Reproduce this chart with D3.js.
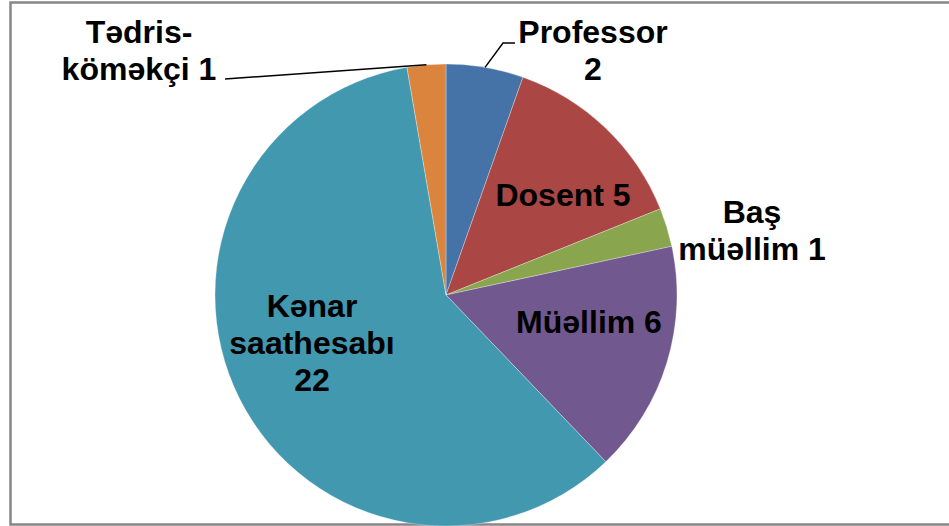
<!DOCTYPE html>
<html>
<head>
<meta charset="utf-8">
<script src="https://cdn.jsdelivr.net/npm/d3@7"></script>
<style>
  body { margin: 0; background: #fff; }
  svg { display: block; }
</style>
</head>
<body>
<div id="chart"></div>
<script>
// categories and values, clockwise from 12 o'clock
var categories = ["Professor", "Dosent", "Baş müəllim", "Müəllim", "Kənar saathesabı", "Tədris-köməkçi"];
var values = [2, 5, 1, 6, 22, 1];
// label lines as they appear in the chart
var labelLines = [
    ["Professor", "2"],
    ["Dosent 5"],
    ["Baş", "müəllim 1"],
    ["Müəllim 6"],
    ["Kənar", "saathesabı", "22"],
    ["Tədris-", "köməkçi 1"]
];
var colors = ["#4572A7", "#AA4643", "#89A54E", "#71588F", "#4198AF", "#DB843D"];

var width = 949, height = 526;
var cx = 446, cy = 295, radius = 231;

// label layout (centre x, first baseline y), plus leader elbow points
var labelPos = {
    "Professor": {x: 593, y: 43, leader: [[503, 43], [515, 43]]},
    "Dosent": {x: 563, y: 206},
    "Baş müəllim": {x: 752, y: 223},
    "Müəllim": {x: 589, y: 333},
    "Kənar saathesabı": {x: 312, y: 317},
    "Tədris-köməkçi": {x: 139, y: 43, leader: [[225, 79]]}
};
var lineHeight = 37;

var data = categories.map(function (c, i) {
    return {name: c, value: values[i], lines: labelLines[i], color: colors[i]};
});

var svg = d3.select("#chart").append("svg")
    .attr("width", width)
    .attr("height", height);

// chart frame (right edge runs off the picture)
svg.append("rect")
    .attr("x", 10.5)
    .attr("y", 2.5)
    .attr("width", width + 20)
    .attr("height", 522)
    .attr("fill", "none")
    .attr("stroke", "#868686")
    .attr("stroke-width", 2.5);

var pie = d3.pie()
    .sort(null)
    .value(function (d) { return d.value; });

var arc = d3.arc()
    .innerRadius(0)
    .outerRadius(radius);

var arcs = pie(data);

var g = svg.append("g")
    .attr("transform", "translate(" + cx + "," + cy + ")");

g.selectAll("path")
    .data(arcs)
    .enter()
    .append("path")
    .attr("d", arc)
    .attr("fill", function (d) { return d.data.color; })
    .attr("stroke", "rgba(255,255,255,0.5)")
    .attr("stroke-width", 0.6);

// leader lines
arcs.forEach(function (d) {
    var p = labelPos[d.data.name];
    if (!p.leader) return;
    var mid = (d.startAngle + d.endAngle) / 2;
    var start = [cx + radius * Math.sin(mid), cy - radius * Math.cos(mid)];
    var pts = [start].concat(p.leader);
    svg.append("path")
        .attr("d", d3.line()(pts))
        .attr("fill", "none")
        .attr("stroke", "#000")
        .attr("stroke-width", 1.5);
});

// labels
arcs.forEach(function (d) {
    var p = labelPos[d.data.name];
    var t = svg.append("text")
        .attr("text-anchor", "middle")
        .attr("font-family", "'Liberation Sans', Arial, sans-serif")
        .attr("font-weight", "bold")
        .attr("font-size", "32px")
        .attr("fill", "#000");
    d.data.lines.forEach(function (line, i) {
        t.append("tspan")
            .attr("x", p.x)
            .attr("y", p.y + i * lineHeight)
            .text(line);
    });
});
</script>
</body>
</html>
